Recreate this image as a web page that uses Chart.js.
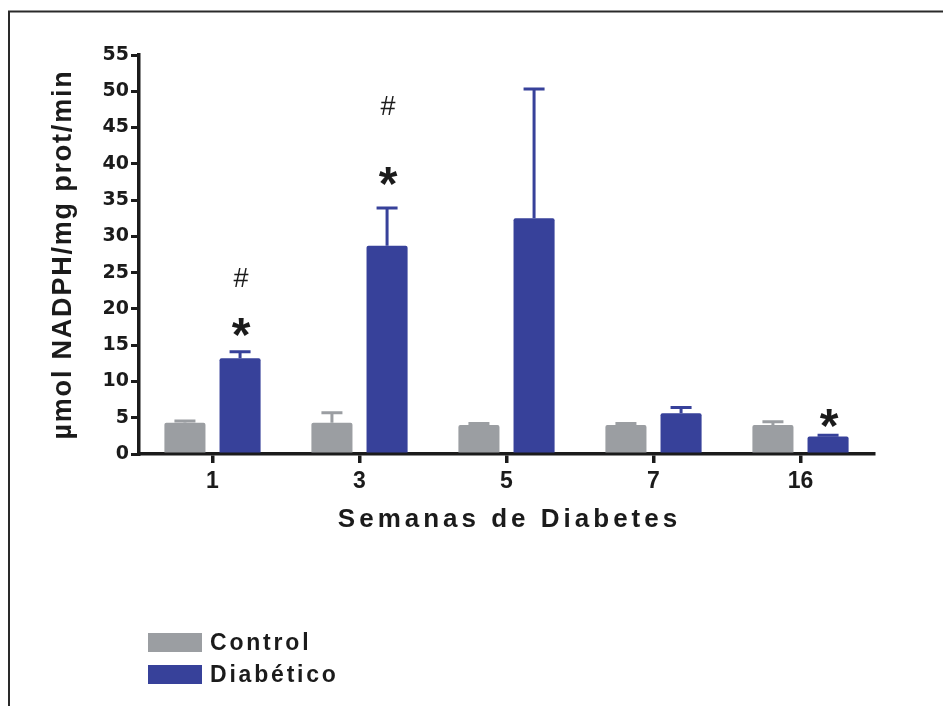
<!DOCTYPE html>
<html>
<head>
<meta charset="utf-8">
<script src="https://cdn.jsdelivr.net/npm/chart.js@4/dist/chart.umd.min.js"></script>
<style>
  html, body { margin: 0; padding: 0; background: #ffffff; }
  canvas { display: block; }
</style>
</head>
<body>
<canvas id="chart" width="943" height="706"></canvas>
<script>
// Weeks of diabetes (x categories)
const weeks = ['1', '3', '5', '7', '16'];

// Series names
const seriesNames = ['Control', 'Diabético'];

// Means and upper error (SEM), µmol NADPH/mg prot/min
const controlMean  = [4.3, 4.3, 4.0, 4.0, 4.0];
const controlErr   = [0.25, 1.4, 0.2, 0.2, 0.45];
const diabeticMean = [13.2, 28.7, 32.5, 5.6, 2.4];
const diabeticErr  = [0.9, 5.2, 17.8, 0.8, 0.2];

// Y tick values
const yTicks = [0, 5, 10, 15, 20, 25, 30, 35, 40, 45, 50, 55];

// Significance marks: symbol, week index, series index, value at glyph centre
const marks = [
  { symbol: '*', week: 0, series: 1, at: 17.5 },
  { symbol: '#', week: 0, series: 1, at: 24.3 },
  { symbol: '*', week: 1, series: 1, at: 38.3 },
  { symbol: '#', week: 1, series: 1, at: 48.1 },
  { symbol: '*', week: 4, series: 1, at: 4.9 }
];

const GREY = '#9b9ea2';
const BLUE = '#37419a';
const INK = '#1b1b1b';

// Draws text with letter spacing when supported
function spacedText(ctx, text, x, y, spacing) {
  if ('letterSpacing' in ctx) {
    ctx.letterSpacing = spacing + 'px';
    ctx.fillText(text, x, y);
    ctx.letterSpacing = '0px';
  } else {
    ctx.fillText(text, x, y);
  }
}

// Frame around the figure
const framePlugin = {
  id: 'frame',
  beforeDraw(chart) {
    const ctx = chart.ctx;
    ctx.save();
    ctx.fillStyle = '#ffffff';
    ctx.fillRect(0, 0, chart.width, chart.height);
    ctx.strokeStyle = '#2a2a2a';
    ctx.lineWidth = 2;
    ctx.beginPath();
    ctx.moveTo(9, chart.height);
    ctx.lineTo(9, 11.5);
    ctx.lineTo(chart.width, 11.5);
    ctx.stroke();
    ctx.restore();
  }
};

// Upper error bars with caps
const errorBarPlugin = {
  id: 'errorBars',
  afterDatasetsDraw(chart) {
    const ctx = chart.ctx;
    const y = chart.scales.y;
    chart.data.datasets.forEach((ds, i) => {
      const meta = chart.getDatasetMeta(i);
      meta.data.forEach((bar, j) => {
        const top = y.getPixelForValue(ds.data[j] + ds.errors[j]);
        ctx.save();
        ctx.strokeStyle = ds.backgroundColor;
        ctx.lineWidth = 3;
        ctx.beginPath();
        ctx.moveTo(bar.x, bar.y);
        ctx.lineTo(bar.x, top);
        ctx.moveTo(bar.x - 10.5, top);
        ctx.lineTo(bar.x + 10.5, top);
        ctx.stroke();
        ctx.restore();
      });
    });
  }
};

// Significance symbols above bars
const marksPlugin = {
  id: 'marks',
  afterDraw(chart) {
    const ctx = chart.ctx;
    const y = chart.scales.y;
    ctx.save();
    ctx.fillStyle = INK;
    ctx.textAlign = 'center';
    ctx.textBaseline = 'alphabetic';
    marks.forEach(m => {
      const bar = chart.getDatasetMeta(m.series).data[m.week];
      ctx.font = m.symbol === '*' ? 'bold 48px "Liberation Sans", Arial, sans-serif'
                                  : '27px "Liberation Sans", Arial, sans-serif';
      const tm = ctx.measureText(m.symbol);
      const cy = y.getPixelForValue(m.at);
      const base = cy + (tm.actualBoundingBoxAscent - tm.actualBoundingBoxDescent) / 2;
      ctx.fillText(m.symbol, bar.x + 1, base);
    });
    ctx.restore();
  }
};

// Axis titles and legend
const textPlugin = {
  id: 'texts',
  afterDraw(chart) {
    const ctx = chart.ctx;
    const area = chart.chartArea;
    ctx.save();
    ctx.fillStyle = INK;

    // x title
    ctx.font = 'bold 26px "Liberation Sans", Arial, sans-serif';
    ctx.textAlign = 'center';
    ctx.textBaseline = 'middle';
    spacedText(ctx, 'Semanas de Diabetes', (area.left + area.right) / 2 + 3, 520, 4);

    // y title
    ctx.save();
    ctx.translate(64, (area.top + area.bottom) / 2);
    ctx.rotate(-Math.PI / 2);
    ctx.font = 'bold 27px "Liberation Sans", Arial, sans-serif';
    spacedText(ctx, 'µmol NADPH/mg prot/min', 0, 0, 1.8);
    ctx.restore();

    // legend
    ctx.textAlign = 'left';
    ctx.font = 'bold 23px "Liberation Sans", Arial, sans-serif';
    const rows = [643, 675];
    chart.data.datasets.forEach((ds, i) => {
      ctx.fillStyle = ds.backgroundColor;
      ctx.fillRect(148, rows[i] - 10, 54, 19);
      ctx.fillStyle = INK;
      spacedText(ctx, ds.label, 210, rows[i] + 1, 2.8);
    });
    ctx.restore();
  }
};

new Chart(document.getElementById('chart'), {
  type: 'bar',
  data: {
    labels: weeks,
    datasets: [
      {
        label: seriesNames[0],
        data: controlMean,
        errors: controlErr,
        backgroundColor: GREY,
        borderRadius: 2,
        borderSkipped: 'bottom'
      },
      {
        label: seriesNames[1],
        data: diabeticMean,
        errors: diabeticErr,
        backgroundColor: BLUE,
        borderRadius: 2,
        borderSkipped: 'bottom'
      }
    ]
  },
  options: {
    responsive: false,
    animation: false,
    devicePixelRatio: 1,
    categoryPercentage: 0.75,
    barPercentage: 0.745,
    layout: { padding: { left: 0, top: 55, right: 69, bottom: 172 } },
    plugins: {
      legend: { display: false },
      title: { display: false },
      tooltip: { enabled: false }
    },
    scales: {
      x: {
        offset: true,
        grid: {
          offset: false,
          drawOnChartArea: false,
          drawTicks: true,
          tickLength: 9,
          lineWidth: 3.5,
          color: INK
        },
        border: { display: true, color: INK, width: 3.5 },
        ticks: {
          color: INK,
          padding: 5,
          font: { family: '"Liberation Sans", Arial, sans-serif', size: 23, weight: 'bold' }
        },
        afterFit(scale) { scale.height = 80; }
      },
      y: {
        min: 0,
        max: 55,
        grid: {
          drawOnChartArea: false,
          drawTicks: true,
          tickLength: 8,
          lineWidth: 3,
          color: INK
        },
        border: { display: true, color: INK, width: 3.5 },
        ticks: {
          color: INK,
          padding: 2,
          font: { family: '"DejaVu Sans", sans-serif', size: 19, weight: 'bold' }
        },
        afterBuildTicks(scale) {
          scale.ticks = yTicks.map(v => ({ value: v }));
        },
        afterFit(scale) { scale.width = 139; }
      }
    }
  },
  plugins: [framePlugin, errorBarPlugin, marksPlugin, textPlugin]
});
</script>
</body>
</html>
